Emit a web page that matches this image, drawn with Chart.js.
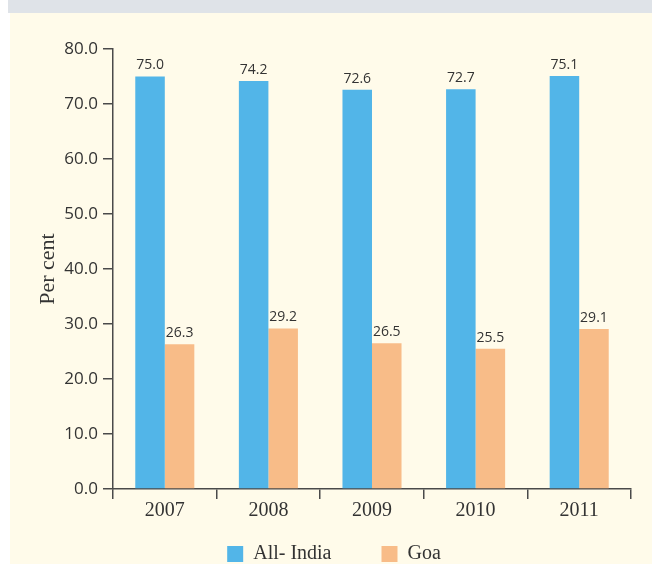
<!DOCTYPE html>
<html>
<head>
<meta charset="utf-8">
<script src="https://cdn.jsdelivr.net/npm/chart.js@4/dist/chart.umd.min.js"></script>
<style>
  html, body { margin: 0; padding: 0; background: #ffffff; overflow: hidden; width: 652px; height: 564px; }
  #band { position: absolute; left: 8px; top: 0; width: 644px; height: 13px; background: #dfe3e8; }
  #panel { position: absolute; left: 10px; top: 13px; width: 642px; height: 551px; background: #fffbea; overflow: hidden; }
  #wrap { position: absolute; left: 0; top: 0; width: 642px; height: 561px; }
</style>
</head>
<body>
<div id="band"></div>
<div id="panel"><div id="wrap"><canvas id="c" width="642" height="561"></canvas></div></div>
<script>
const categories = ['2007', '2008', '2009', '2010', '2011'];
const allIndia = [75.0, 74.2, 72.6, 72.7, 75.1];
const goa = [26.3, 29.2, 26.5, 25.5, 29.1];
const seriesNames = ['All- India', 'Goa'];
const yTicks = [0, 10, 20, 30, 40, 50, 60, 70, 80];

const SERIF = "'Liberation Serif', 'DejaVu Serif', serif";
const SANS = "'Open Sans', 'Noto Sans', sans-serif";

const valueLabels = {
  id: 'valueLabels',
  afterDatasetsDraw(chart) {
    const ctx = chart.ctx;
    ctx.save();
    ctx.font = '14px ' + SANS;
    ctx.fillStyle = '#333333';
    ctx.textAlign = 'center';
    ctx.textBaseline = 'bottom';
    chart.data.datasets.forEach((ds, di) => {
      const meta = chart.getDatasetMeta(di);
      meta.data.forEach((bar, i) => {
        ctx.fillText(ds.data[i].toFixed(1), bar.x, bar.y - 4);
      });
    });
    ctx.restore();
  }
};

// give the x axis room for its labels (labels are clipped to the scale box)
const xLabelRoom = {
  id: 'xLabelRoom',
  afterLayout(chart) {
    const x = chart.scales.x;
    x.height = 40;
    x.bottom = x.top + 40;
  }
};

new Chart(document.getElementById('c'), {
  type: 'bar',
  data: {
    labels: categories,
    datasets: [
      { label: seriesNames[0], data: allIndia, backgroundColor: '#52b5e8', categoryPercentage: 0.57, barPercentage: 1.0 },
      { label: seriesNames[1], data: goa, backgroundColor: '#f8bc88', categoryPercentage: 0.57, barPercentage: 1.0 }
    ]
  },
  options: {
    responsive: false,
    animation: false,
    layout: { padding: { left: 27, right: 21, top: 36, bottom: 0 } },
    plugins: {
      legend: {
        position: 'bottom',
        labels: {
          boxWidth: 16, boxHeight: 16, padding: 50,
          color: '#333333',
          font: { family: SERIF, size: 20 }
        }
      },
      tooltip: { enabled: false }
    },
    scales: {
      x: {
        afterFit(scale) { scale.height = 5; },
        grid: { display: true, drawOnChartArea: false, drawTicks: true, tickLength: 10, color: '#4a4a4a', lineWidth: 1.5, offset: true },
        border: { display: true, color: '#4a4a4a', width: 1.5 },
        ticks: { color: '#333333', font: { family: SERIF, size: 20 }, padding: 0, maxRotation: 0, autoSkip: false }
      },
      y: {
        min: 0, max: 80,
        afterFit(scale) { scale.width = 76; },
        afterBuildTicks(scale) { scale.ticks = yTicks.map(v => ({ value: v })); },
        grid: { display: true, drawOnChartArea: false, drawTicks: true, tickLength: 10, color: '#4a4a4a', lineWidth: 1.5 },
        border: { display: true, color: '#4a4a4a', width: 1.5 },
        ticks: { color: '#333333', font: { family: SANS, size: 17 }, padding: 5, callback: v => Number(v).toFixed(1) },
        title: { display: true, text: 'Per cent', color: '#333333', font: { family: SERIF, size: 22, lineHeight: 1 }, padding: { top: 0, bottom: 0 } }
      }
    }
  },
  plugins: [valueLabels, xLabelRoom]
});
</script>
</body>
</html>
